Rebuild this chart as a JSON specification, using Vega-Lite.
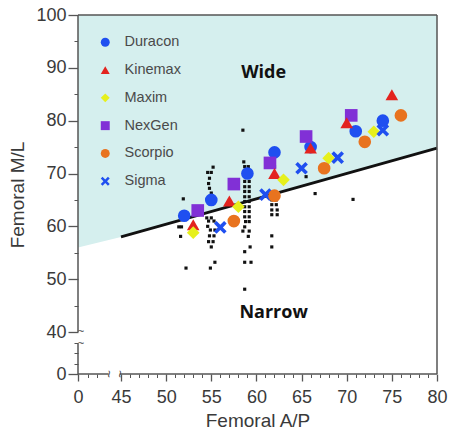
{
  "$schema": "https://vega.github.io/schema/vega-lite/v6.json",
  "autosize": "none",
  "width": 359,
  "height": 359,
  "padding": {"left": 78, "top": 15, "right": 13, "bottom": 57},
  "background": "white",
  "data": {"values": [{}]},
  "config": {
    "view": {"stroke": null},
    "axis": {"labelFont": "Liberation Sans", "titleFont": "Liberation Sans", "labelColor": "#3a3a3a", "titleColor": "#3a3a3a", "tickColor": "#555", "tickWidth": 1.3, "domain": false, "grid": false, "labelFontSize": 18, "titleFontSize": 19, "titleFontWeight": "normal", "labelOverlap": false, "labelFlush": false}
  },
  "resolve": {"axis": {"x": "independent", "y": "independent"}},
  "datasets": {
    "boundary": [
      {"ap": 0, "ml": 56},
      {"ap": 45, "ml": 58},
      {"ap": 80, "ml": 74.8}
    ],
    "implants": [
      {"brand": "Duracon", "ap": 52, "ml": 62},
      {"brand": "Duracon", "ap": 55, "ml": 65},
      {"brand": "Duracon", "ap": 59, "ml": 70},
      {"brand": "Duracon", "ap": 62, "ml": 74},
      {"brand": "Duracon", "ap": 66, "ml": 75},
      {"brand": "Duracon", "ap": 71, "ml": 78},
      {"brand": "Duracon", "ap": 74, "ml": 80},
      {"brand": "NexGen", "ap": 53.5, "ml": 63},
      {"brand": "NexGen", "ap": 57.5, "ml": 68},
      {"brand": "NexGen", "ap": 61.5, "ml": 72},
      {"brand": "NexGen", "ap": 65.5, "ml": 77},
      {"brand": "NexGen", "ap": 70.5, "ml": 81},
      {"brand": "Kinemax", "ap": 53, "ml": 60.3},
      {"brand": "Kinemax", "ap": 57, "ml": 64.8},
      {"brand": "Kinemax", "ap": 62, "ml": 70},
      {"brand": "Kinemax", "ap": 66, "ml": 74.8},
      {"brand": "Kinemax", "ap": 70, "ml": 79.6},
      {"brand": "Kinemax", "ap": 75, "ml": 84.9},
      {"brand": "Maxim", "ap": 53, "ml": 58.8},
      {"brand": "Maxim", "ap": 58, "ml": 63.7},
      {"brand": "Maxim", "ap": 63, "ml": 68.8},
      {"brand": "Maxim", "ap": 68, "ml": 72.9},
      {"brand": "Maxim", "ap": 73, "ml": 77.9},
      {"brand": "Sigma", "ap": 56, "ml": 59.8},
      {"brand": "Sigma", "ap": 61, "ml": 66},
      {"brand": "Sigma", "ap": 65, "ml": 71},
      {"brand": "Sigma", "ap": 69, "ml": 73},
      {"brand": "Sigma", "ap": 74, "ml": 78.2},
      {"brand": "Scorpio", "ap": 57.5, "ml": 61},
      {"brand": "Scorpio", "ap": 62, "ml": 65.8},
      {"brand": "Scorpio", "ap": 67.5, "ml": 71},
      {"brand": "Scorpio", "ap": 72, "ml": 76},
      {"brand": "Scorpio", "ap": 76, "ml": 81}
    ],
    "patients": [
      {"ap": 51.9, "ml": 65.2}, {"ap": 51.4, "ml": 59.9}, {"ap": 51.7, "ml": 59.9}, {"ap": 51.6, "ml": 58.1},
      {"ap": 52.2, "ml": 52.1}, {"ap": 54.9, "ml": 52.1}, {"ap": 55.4, "ml": 53.2},
      {"ap": 55.2, "ml": 71.2}, {"ap": 54.6, "ml": 70.2}, {"ap": 55.0, "ml": 70.2}, {"ap": 54.8, "ml": 69.1},
      {"ap": 54.7, "ml": 68.1}, {"ap": 54.8, "ml": 67.2}, {"ap": 55.0, "ml": 66.3},
      {"ap": 54.5, "ml": 61.6}, {"ap": 55.0, "ml": 61.6}, {"ap": 54.7, "ml": 61.0}, {"ap": 55.3, "ml": 61.0},
      {"ap": 54.6, "ml": 60.0}, {"ap": 54.9, "ml": 59.3}, {"ap": 55.4, "ml": 59.3}, {"ap": 54.8, "ml": 58.2},
      {"ap": 55.3, "ml": 58.2}, {"ap": 54.7, "ml": 57.1}, {"ap": 55.2, "ml": 57.1}, {"ap": 55.0, "ml": 56.1},
      {"ap": 58.5, "ml": 78.2}, {"ap": 58.6, "ml": 72.2}, {"ap": 58.7, "ml": 71.3}, {"ap": 59.1, "ml": 71.3},
      {"ap": 58.7, "ml": 68.5}, {"ap": 59.2, "ml": 68.5}, {"ap": 58.7, "ml": 67.5}, {"ap": 59.2, "ml": 67.5},
      {"ap": 58.7, "ml": 66.6}, {"ap": 59.2, "ml": 66.6}, {"ap": 58.7, "ml": 65.6}, {"ap": 59.2, "ml": 65.6},
      {"ap": 58.7, "ml": 64.7}, {"ap": 59.2, "ml": 64.7}, {"ap": 58.7, "ml": 63.7}, {"ap": 59.2, "ml": 63.7},
      {"ap": 58.7, "ml": 62.8}, {"ap": 59.2, "ml": 62.8}, {"ap": 58.7, "ml": 61.8}, {"ap": 59.2, "ml": 61.8},
      {"ap": 58.8, "ml": 60.9}, {"ap": 59.2, "ml": 60.9}, {"ap": 58.7, "ml": 59.9}, {"ap": 58.5, "ml": 59.1},
      {"ap": 59.2, "ml": 59.1}, {"ap": 59.1, "ml": 58.1}, {"ap": 59.3, "ml": 56.1}, {"ap": 58.7, "ml": 55.2},
      {"ap": 58.7, "ml": 53.2}, {"ap": 59.4, "ml": 53.2}, {"ap": 58.7, "ml": 48.1},
      {"ap": 62.0, "ml": 71.3}, {"ap": 61.7, "ml": 65.0}, {"ap": 62.2, "ml": 65.0}, {"ap": 61.7, "ml": 64.1},
      {"ap": 62.2, "ml": 64.1}, {"ap": 61.7, "ml": 63.1}, {"ap": 62.3, "ml": 63.1}, {"ap": 61.7, "ml": 62.2},
      {"ap": 62.3, "ml": 62.2}, {"ap": 61.7, "ml": 58.2}, {"ap": 61.7, "ml": 56.1},
      {"ap": 65.5, "ml": 69.4}, {"ap": 66.5, "ml": 66.2}, {"ap": 70.7, "ml": 65.1}
    ]
  },
  "layer": [
    {
      "data": {"name": "boundary"},
      "mark": {"type": "area", "color": "#d5efee", "opacity": 1},
      "encoding": {
        "x": {"field": "ap", "type": "quantitative", "title": "Femoral A/P",
          "scale": {"domain": [0, 45, 80], "range": [0, 43, 359], "nice": false, "zero": false},
          "axis": {
            "orient": "bottom",
            "values": [0, 45, 50, 55, 60, 65, 70, 75, 80],
            "tickSize": 7, "labelOverlap": false, "labelFlush": false,
            "labelPadding": 7, "titlePadding": 5
          }},
        "y": {"field": "ml", "type": "quantitative", "title": "Femoral M/L",
          "scale": {"domain": [0, 40, 100], "range": [359, 317, 0], "nice": false, "zero": false},
          "axis": {
            "orient": "left",
            "values": [0, 40, 50, 60, 70, 80, 90, 100],
            "tickSize": 10, "labelOverlap": false, "labelFlush": false,
            "labelPadding": 2, "titlePadding": 8
          }},
        "y2": {"datum": 100}
      }
    },
    {
      "data": {"name": "patients"},
      "mark": {"type": "point", "shape": "square", "filled": true, "color": "#111", "size": 10, "opacity": 1},
      "encoding": {
        "x": {"field": "ap", "type": "quantitative",
          "axis": {
            "orient": "bottom", "title": null, "labels": false, "tickSize": 3.5, "tickWidth": 1,
            "values": [10, 20, 46, 47, 48, 49, 51, 52, 53, 54, 56, 57, 58, 59, 61, 62, 63, 64, 66, 67, 68, 69, 71, 72, 73, 74, 76, 77, 78, 79]
          }},
        "y": {"field": "ml", "type": "quantitative",
          "axis": {
            "orient": "left", "title": null, "labels": false, "tickSize": 4, "tickWidth": 1,
            "values": [10, 20, 30, 45, 55, 65, 75, 85, 95]
          }}
      }
    },
    {
      "data": {"name": "boundary"},
      "transform": [{"filter": "datum.ap >= 45"}],
      "mark": {"type": "line", "color": "#111", "strokeWidth": 2.8},
      "encoding": {
        "x": {"field": "ap", "type": "quantitative", "axis": null},
        "y": {"field": "ml", "type": "quantitative", "axis": null}
      }
    },
    {"mark": {"type": "rule", "color": "#555", "strokeWidth": 1.5}, "encoding": {"x": {"datum": 0, "axis": null}, "x2": {"datum": 32}, "y": {"datum": 0, "axis": null}}},
    {"mark": {"type": "rule", "color": "#555", "strokeWidth": 1.5}, "encoding": {"x": {"datum": 43.8, "axis": null}, "x2": {"datum": 80}, "y": {"datum": 0, "axis": null}}},
    {"mark": {"type": "rule", "color": "#555", "strokeWidth": 1.5}, "encoding": {"x": {"datum": 0, "axis": null}, "x2": {"datum": 80}, "y": {"datum": 100, "axis": null}}},
    {"mark": {"type": "rule", "color": "#555", "strokeWidth": 1.5}, "encoding": {"x": {"datum": 80, "axis": null}, "y": {"datum": 0, "axis": null}, "y2": {"datum": 100}}},
    {"mark": {"type": "rule", "color": "#555", "strokeWidth": 1.5}, "encoding": {"x": {"datum": 0, "axis": null}, "y": {"datum": 0, "axis": null}, "y2": {"datum": 29}}},
    {"mark": {"type": "rule", "color": "#555", "strokeWidth": 1.5}, "encoding": {"x": {"datum": 0, "axis": null}, "y": {"datum": 40, "axis": null}, "y2": {"datum": 100}}},
    {"mark": {"type": "text", "text": "~", "fontSize": 11, "color": "#444", "dx": 3, "baseline": "middle"}, "encoding": {"x": {"datum": 0, "axis": null}, "y": {"datum": 40, "axis": null}}},
    {"mark": {"type": "text", "text": "~", "fontSize": 11, "color": "#444", "dx": 3, "baseline": "middle"}, "encoding": {"x": {"datum": 0, "axis": null}, "y": {"datum": 29, "axis": null}}},
    {"mark": {"type": "text", "text": "~", "fontSize": 13, "color": "#444", "angle": 90, "baseline": "middle"}, "encoding": {"x": {"datum": 32, "axis": null}, "y": {"datum": 0, "axis": null}}},
    {"mark": {"type": "text", "text": "~", "fontSize": 13, "color": "#444", "angle": 90, "baseline": "middle"}, "encoding": {"x": {"datum": 43.8, "axis": null}, "y": {"datum": 0, "axis": null}}},
    {
      "data": {"name": "implants"},
      "mark": {"type": "point", "filled": true, "opacity": 1, "size": 160, "strokeWidth": 0},
      "encoding": {
        "x": {"field": "ap", "type": "quantitative", "axis": null},
        "y": {"field": "ml", "type": "quantitative", "axis": null},
        "color": {"field": "brand", "type": "nominal",
          "scale": {"domain": ["Duracon", "Kinemax", "Maxim", "NexGen", "Scorpio", "Sigma"], "range": ["#1f4ff0", "#e3231e", "#e6f01c", "#8130d6", "#e8731f", "#1f4ff0"]},
          "legend": {"title": null, "orient": "none", "legendX": 20, "legendY": 20, "padding": 0, "rowPadding": 12.8, "symbolSize": 80, "labelFontSize": 14.5, "labelFont": "Liberation Sans", "labelColor": "#4a4a4a", "labelOffset": 12, "symbolStrokeWidth": 0}},
        "shape": {"field": "brand", "type": "nominal",
          "scale": {"domain": ["Duracon", "Kinemax", "Maxim", "NexGen", "Scorpio", "Sigma"], "range": ["circle", "triangle-up", "diamond", "square", "circle", "M-1,-0.6L-0.6,-1L0,-0.4L0.6,-1L1,-0.6L0.4,0L1,0.6L0.6,1L0,0.4L-0.6,1L-1,0.6L-0.4,0Z"]}}
      }
    },
    {"mark": {"type": "text", "text": "Wide", "font": "Open Sans", "fontWeight": "bold", "fontSize": 18, "color": "#111", "align": "center", "baseline": "alphabetic"}, "encoding": {"x": {"datum": 60.8, "axis": null}, "y": {"datum": 88, "axis": null}}},
    {"mark": {"type": "text", "text": "Narrow", "font": "Open Sans", "fontWeight": "bold", "fontSize": 18, "color": "#111", "align": "center", "baseline": "alphabetic"}, "encoding": {"x": {"datum": 61.9, "axis": null}, "y": {"datum": 42.7, "axis": null}}}
  ]
}
